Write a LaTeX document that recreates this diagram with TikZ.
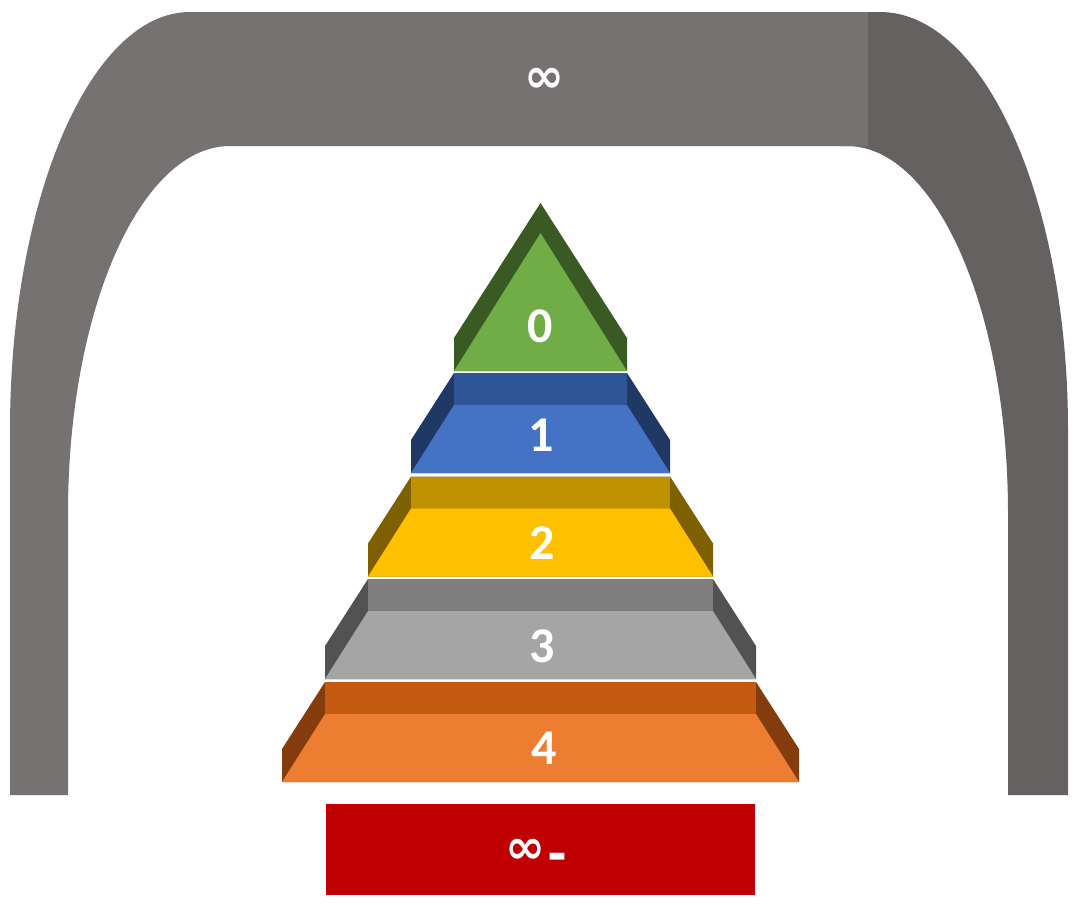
\documentclass[tikz,border=0pt]{standalone}
\usepackage{fontspec}
\setmainfont{Carlito}
\newfontfamily\symfont{DejaVu Sans}
\definecolor{archlight}{HTML}{767271}
\definecolor{archdark}{HTML}{656160}
\definecolor{gside}{HTML}{3A5A24}
\definecolor{gfront}{HTML}{70AD47}
\definecolor{bback}{HTML}{2F5597}
\definecolor{bside}{HTML}{203864}
\definecolor{bfront}{HTML}{4472C4}
\definecolor{yback}{HTML}{BF9000}
\definecolor{yside}{HTML}{7F6000}
\definecolor{yfront}{HTML}{FFC000}
\definecolor{sback}{HTML}{7F7F7F}
\definecolor{sside}{HTML}{525252}
\definecolor{sfront}{HTML}{A5A5A5}
\definecolor{oback}{HTML}{C55A11}
\definecolor{oside}{HTML}{843C0C}
\definecolor{ofront}{HTML}{ED7D31}
\definecolor{redbox}{HTML}{C00000}
\tikzset{
  digit/.style={text=white, font=\bfseries\fontsize{50}{54}\selectfont, inner sep=0pt},
  inflabel/.style={text=white, font=\symfont\bfseries\fontsize{48}{52}\selectfont, inner sep=0pt},
}
% \pyrlayer{top y}{half width at top}{back}{side}{front}
\newcommand{\pyrlayer}[5]{%
  \fill[#4] ({540.5-#2},#1) -- ({540.5-#2-43},{#1+67}) -- ({540.5-#2-43},{#1+100})
    -- ({540.5+#2+43},{#1+100}) -- ({540.5+#2+43},{#1+67}) -- ({540.5+#2},#1) -- cycle;
  \fill[#3] ({540.5-#2},#1) rectangle ({540.5+#2},{#1+32});
  \fill[#5] ({540.5-#2},{#1+32}) -- ({540.5+#2},{#1+32}) -- ({540.5+#2+43},{#1+100})
    -- ({540.5-#2-43},{#1+100}) -- cycle;
}
\begin{document}
\begin{tikzpicture}[x=1pt,y=-1pt]
\useasboundingbox (0,0) rectangle (1080,905);
\fill[white] (0,0) rectangle (1080,905);
% arch, right (darker) part
\fill[archdark] (840,12) -- (880,12) .. controls (983.8,12) and (1068,199.1) .. (1068,430)
  -- (1068,795) -- (1008,795) -- (1008,513) .. controls (1008,310.3) and (935.9,146) .. (847,146)
  -- (840,146) -- cycle;
% arch, left part and top
\fill[archlight] (10,795) -- (10,430) .. controls (10,199) and (90.6,12) .. (190,12)
  -- (868,12) -- (868,146) -- (230,146) .. controls (140.5,146) and (68,310.3) .. (68,513)
  -- (68,795) -- cycle;
\node[inflabel] (top) at (544,80) {∞};
% pyramid level 0
\fill[gside] (540.5,203) -- (627,338) -- (627,371) -- (454,371) -- (454,338) -- cycle;
\fill[gfront] (540.5,233) -- (627,371) -- (454,371) -- cycle;
\pyrlayer{373}{86.5}{bback}{bside}{bfront}
\pyrlayer{476.5}{129.5}{yback}{yside}{yfront}
\pyrlayer{579}{172.5}{sback}{sside}{sfront}
\pyrlayer{682}{215.5}{oback}{oside}{ofront}
\node[digit] (l0) at (540,326) {0};
\node[digit] (l1) at (541,435) {1};
\node[digit] (l2) at (542,543) {2};
\node[digit] (l3) at (542,646) {3};
\node[digit] (l4) at (544,748) {4};
% bottom box
\fill[redbox] (326,804) rectangle (755,895);
\node[inflabel, anchor=base] (bottom) at (536,863) {∞\kern2pt\raisebox{-7pt}{-}};
\end{tikzpicture}
\end{document}
